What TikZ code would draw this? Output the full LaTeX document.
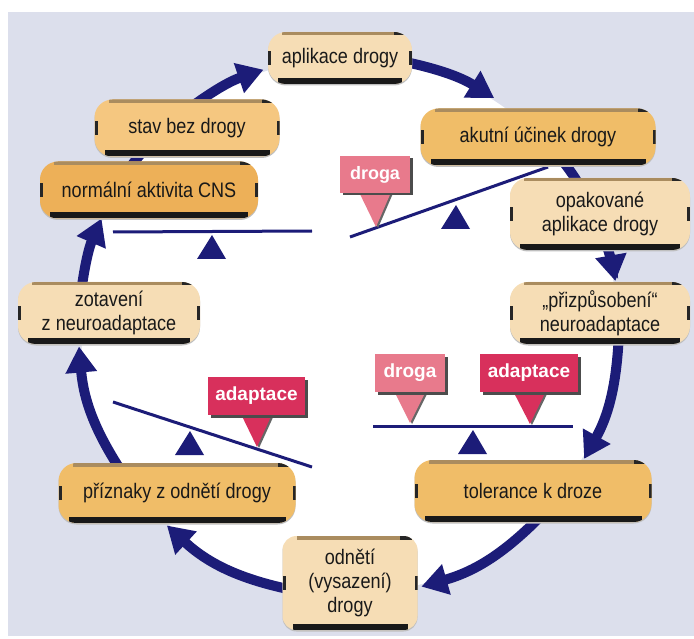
\documentclass[tikz,border=0pt]{standalone}
\usepackage{fontspec}
\setmainfont{Liberation Sans}
\newfontfamily\boxfont{Liberation Sans}[FakeStretch=0.86]
\usetikzlibrary{arrows.meta,shadows,calc}
\definecolor{bgblue}{RGB}{220,223,236}
\definecolor{navy}{RGB}{28,28,120}
\definecolor{pale}{RGB}{246,221,181}
\definecolor{orangeA}{RGB}{240,189,104}
\definecolor{orangeB}{RGB}{237,176,88}
\definecolor{orangeC}{RGB}{245,199,128}
\definecolor{pinkL}{RGB}{232,122,140}
\definecolor{pinkD}{RGB}{216,48,92}
\definecolor{tanedge}{RGB}{170,140,95}
\begin{document}
\begin{tikzpicture}[x=1pt,y=-1pt,
  ring/.style={line width=10pt, draw=navy},
  ringarrow/.style={ring, -{Triangle[width=30pt,length=26pt]}},
  beam/.style={draw=navy, line width=3pt},
  fulcrum/.style={fill=navy},
  box/.style={rounded corners=18pt, align=center, inner sep=0pt, text=black!90,
    font=\boxfont\fontsize{21}{24}\selectfont, fill=#1,
    general shadow={fill=black!25, shadow yshift=-1.5pt},
    path picture={
      \begin{scope}[sharp corners]
      \fill[black!90] ([xshift=10pt]path picture bounding box.south west) rectangle ([xshift=-10pt,yshift=6pt]path picture bounding box.south east);
      \fill[tanedge] ([xshift=14pt]path picture bounding box.north west) rectangle ([xshift=-14pt,yshift=-3.5pt]path picture bounding box.north east);
      \fill[black!85] ([yshift=-7pt]path picture bounding box.west) rectangle ([xshift=3pt,yshift=7pt]path picture bounding box.west);
      \fill[black!85] ([yshift=-7pt]path picture bounding box.east) rectangle ([xshift=-3pt,yshift=7pt]path picture bounding box.east);
      \fill[black!85] ([xshift=-18pt,yshift=-3.5pt]path picture bounding box.north east) rectangle ([xshift=-6pt]path picture bounding box.north east);
      \end{scope}
    }},
  tag/.style={fill=#1, text=white, inner sep=0pt,
    font=\bfseries\fontsize{19}{22}\selectfont,
    general shadow={fill=black!70, shadow xshift=2.5pt, shadow yshift=-2.5pt}},
  pointer/.style={fill=#1, general shadow={fill=black!60, shadow xshift=2pt, shadow yshift=-1pt}},
]
\useasboundingbox (0,0) rectangle (694,639);
\fill[bgblue] (8,12) rectangle (694,636);
\fill[white] (349,326) circle[radius=268];

% ring connectors
\coordinate (r1s) at (186.5,110.4); \coordinate (r1e) at (263.5,69.7);
\coordinate (r2s) at (405.1,61.9);  \coordinate (r2e) at (494.1,98.0);
\coordinate (r3s) at (561.8,159.8); \coordinate (r3e) at (582.8,191.0);
\coordinate (r4s) at (605.8,242.6); \coordinate (r4e) at (615.4,281.1);
\coordinate (r5s) at (618.6,340.1); \coordinate (r5e) at (584.1,458.9);
\coordinate (r6s) at (543.2,513.6); \coordinate (r6e) at (421.4,586.6);
\coordinate (r7s) at (292.9,590.1); \coordinate (r7e) at (166.9,525.5);
\coordinate (r8s) at (125.2,477.0); \coordinate (r8e) at (79.0,346.5);
\coordinate (r9s) at (81.0,293.1);  \coordinate (r9e) at (101.5,218.5);
\coordinate (r10s) at (108.4,203.4); \coordinate (r10e) at (148.4,145.3);
\draw[ringarrow] (r1s) to[bend left=9] (r1e);
\draw[ringarrow] (r2s) to[bend left=10] (r2e);
\draw[ring] (r3s) to[bend left=4] (r3e);
\draw[ringarrow] (r4s) to[bend left=4] (r4e);
\draw[ringarrow] (r5s) to[bend left=13] (r5e);
\draw[ringarrow] (r6s) to[bend left=15] (r6e);
\draw[ringarrow] (r7s) to[bend left=15.5] (r7e);
\draw[ringarrow] (r8s) to[bend left=14.5] (r8e);
\draw[ringarrow] (r9s) to[bend left=8] (r9e);
\draw[ring] (r10s) to[bend left=7.5] (r10e);

% balances
\draw[beam] (113,232) -- (312,231);
\fill[fulcrum] (212,235) -- (226,259) -- (197,259) -- cycle;
\draw[beam] (350,237) -- (548,167);
\fill[fulcrum] (456,205) -- (470,229) -- (441,229) -- cycle;
\draw[beam] (373,426) -- (573,426);
\fill[fulcrum] (473,430) -- (487,454) -- (458,454) -- cycle;
\draw[beam] (113,402) -- (312,467);
\fill[fulcrum] (190,431) -- (204,455) -- (175,455) -- cycle;

% pointers
\fill[pointer=pinkL] (358,190) -- (376,227) -- (392,190) -- cycle;
\fill[pointer=pinkL] (393,389) -- (410,423) -- (427,389) -- cycle;
\fill[pointer=pinkD] (512,389) -- (530,424) -- (547,389) -- cycle;
\fill[pointer=pinkD] (240,412) -- (257,447) -- (273,412) -- cycle;

% tags
\node[tag=pinkL, minimum width=70pt, minimum height=37pt, font=\bfseries\fontsize{18}{20}\selectfont] (drogaA) at (375,174.5) {droga};
\node[tag=pinkL, minimum width=70pt, minimum height=38pt] (drogaB) at (410,373) {droga};
\node[tag=pinkD, minimum width=98pt, minimum height=38pt] (adaptB) at (529,373) {adaptace};
\node[tag=pinkD, minimum width=97pt, minimum height=38pt] (adaptA) at (256.5,396) {adaptace};

% boxes
\node[box=pale, minimum width=144pt, minimum height=52pt] (aplikace) at (340,58) {aplikace drogy};
\node[box=orangeA, minimum width=235pt, minimum height=57pt] (akutni) at (538,137) {akutní účinek drogy};
\node[box=pale, minimum width=180pt, minimum height=72pt] (opak) at (600,214) {opakované\\aplikace drogy};
\node[box=pale, minimum width=180pt, minimum height=62pt] (prizp) at (600,313) {„přizpůsobení“\\neuroadaptace};
\node[box=orangeA, minimum width=237pt, minimum height=62pt] (tol) at (533,491) {tolerance k droze};
\node[box=pale, minimum width=135pt, minimum height=94pt, rounded corners=14pt] (odneti) at (350,583) {odnětí\\(vysazení)\\drogy};
\node[box=orangeA, minimum width=237pt, minimum height=60pt] (priznaky) at (177,493) {příznaky z odnětí drogy};
\node[box=pale, minimum width=182pt, minimum height=62pt] (zotaveni) at (109,313) {zotavení\\z neuroadaptace};
\node[box=orangeC, minimum width=185pt, minimum height=57pt] (stav) at (187,128) {stav bez drogy};
\node[box=orangeB, minimum width=218pt, minimum height=57pt] (normalni) at (149,190) {normální aktivita CNS};
\end{tikzpicture}
\end{document}
